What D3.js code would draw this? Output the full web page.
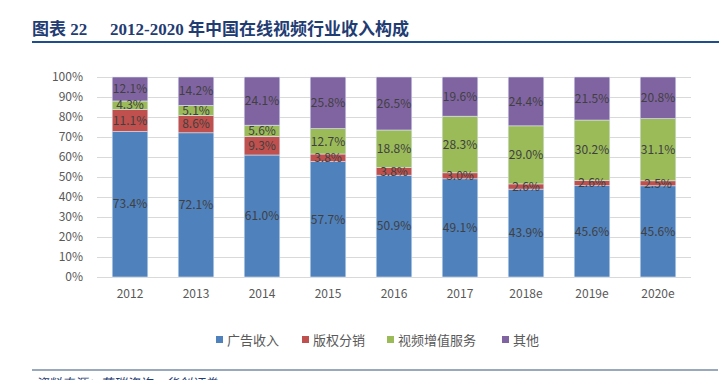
<!DOCTYPE html>
<html><head><meta charset="utf-8">
<script src="https://cdn.jsdelivr.net/npm/d3@7"></script>
<style>body{margin:0;background:#fff;}svg{display:block;}</style>
</head><body>
<svg id="c" width="721" height="380"></svg>
<script>
const categories = ["2012","2013","2014","2015","2016","2017","2018e","2019e","2020e"];
const seriesNames = ["广告收入","版权分销","视频增值服务","其他"];
const adRevenue = [73.4,72.1,61.0,57.7,50.9,49.1,43.9,45.6,45.6];
const copyright = [11.1,8.6,9.3,3.8,3.8,3.0,2.6,2.6,2.5];
const vas = [4.3,5.1,5.6,12.7,18.8,28.3,29.0,30.2,31.1];
const others = [12.1,14.2,24.1,25.8,26.5,19.6,24.4,21.5,20.8];
const yTicks = [0,0.1,0.2,0.3,0.4,0.5,0.6,0.7,0.8,0.9,1];
const colors = ["#4f81bd","#c0504d","#9bbb59","#8064a2"];
const titleLabel = "图表 22";
const titleText = "2012-2020 年中国在线视频行业收入构成";
const source = "资料来源：艾瑞咨询，华创证券";

const seriesArrays = [adRevenue, copyright, vas, others];
const rows = categories.map((c,i)=>{const r={cat:c}; seriesNames.forEach((s,j)=>r[s]=seriesArrays[j][i]); return r;});
const stacked = d3.stack().keys(seriesNames).offset(d3.stackOffsetExpand)(rows);

const svg = d3.select("#c");
const font = "'Noto Sans CJK SC','Microsoft YaHei',sans-serif";

// title
const tf = "'Liberation Serif','Noto Sans CJK SC',serif";
svg.append("text").attr("x",32).attr("y",35).attr("font-family",tf)
  .attr("font-weight","bold").attr("font-size",17).attr("fill","#1f3c73").text(titleLabel);
svg.append("text").attr("x",110).attr("y",35).attr("font-family",tf)
  .attr("font-weight","bold").attr("font-size",17).attr("fill","#1f3c73").text(titleText);
svg.append("line").attr("x1",32).attr("x2",719).attr("y1",42).attr("y2",42)
  .attr("stroke","#1f4e8c").attr("stroke-width",2);

const x = d3.scaleBand().domain(categories).range([97,691]).paddingInner(0.46).paddingOuter(0.23);
const y = d3.scaleLinear().domain([0,1]).range([277,77]);

// grid
svg.append("g").selectAll("line").data(yTicks).join("line")
  .attr("x1",97).attr("x2",691).attr("y1",d=>Math.round(y(d))+0.5).attr("y2",d=>Math.round(y(d))+0.5)
  .attr("stroke","#d9d9d9").attr("stroke-width",1);

// y axis
const yAxis = d3.axisLeft(y).tickValues(yTicks).tickFormat(d3.format(".0%")).tickSize(0).tickPadding(0);
const ya = svg.append("g").attr("transform","translate(83,0)").call(yAxis);
ya.select(".domain").remove();
ya.selectAll("text").attr("font-family",font).attr("font-size",12).attr("fill","#595959");

// x axis
const xAxis = d3.axisBottom(x).tickSize(0).tickPadding(0);
const xa = svg.append("g").attr("transform","translate(0,289)").call(xAxis);
xa.select(".domain").remove();
xa.selectAll("text").attr("font-family",font).attr("font-size",12).attr("fill","#595959").attr("dy","0.71em");

// bars
const g = svg.append("g");
stacked.forEach((s,si)=>{
  g.append("g").selectAll("rect").data(s).join("rect")
    .attr("x",d=>x(d.data.cat)).attr("width",x.bandwidth())
    .attr("y",d=>y(d[1])).attr("height",d=>y(d[0])-y(d[1]))
    .attr("fill",colors[si]).attr("stroke","#dbe4f0").attr("stroke-width",0.6);
});
stacked.forEach((s,si)=>{
  g.append("g").selectAll("text").data(s).join("text")
    .attr("x",d=>x(d.data.cat)+x.bandwidth()/2)
    .attr("y",d=>(y(d[0])+y(d[1]))/2).attr("dy","0.35em")
    .attr("text-anchor","middle").attr("font-family",font).attr("font-size",12).attr("fill","#404040")
    .text(d=>d.data[s.key].toFixed(1)+"%");
});

// legend
const legX = [216,302,387,502];
const lg = svg.append("g").selectAll("g").data(seriesNames).join("g")
  .attr("transform",(d,i)=>`translate(${legX[i]},340)`);
lg.append("rect").attr("x",0).attr("y",-4).attr("width",7).attr("height",7).attr("fill",(d,i)=>colors[i]);
lg.append("text").attr("x",11).attr("y",0).attr("dy","0.35em").attr("font-family",font)
  .attr("font-size",13).attr("fill","#595959").text(d=>d);

// footer
svg.append("line").attr("x1",32).attr("x2",718).attr("y1",370).attr("y2",370)
  .attr("stroke","#9aa8bc").attr("stroke-width",2);
svg.append("text").attr("x",35).attr("y",388).attr("font-family",font).attr("font-style","italic")
  .attr("font-size",13).attr("fill","#1f3c73").text(source);
</script>
</body></html>
